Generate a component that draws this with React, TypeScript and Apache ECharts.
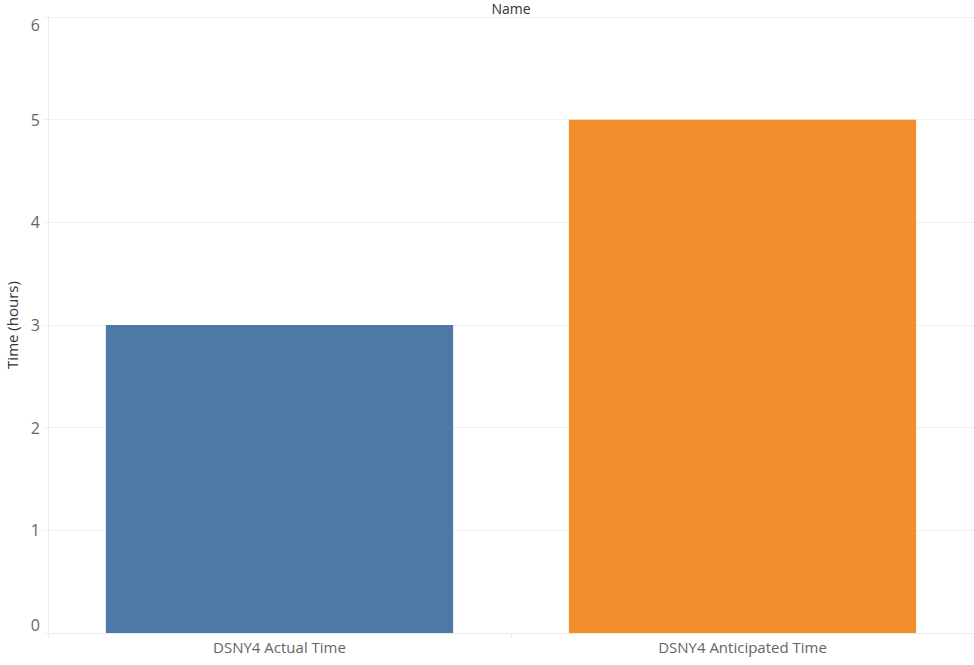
import React, { useEffect, useRef } from "react";
import * as echarts from "echarts";

const categories = ["DSNY4 Actual Time", "DSNY4 Anticipated Time"];
const hours = [3, 5];
const yTicks = [0, 1, 2, 3, 4, 5, 6];

const barColors = ["#4e79a7", "#f28e2b"];
const FONT = "'Open Sans', 'Noto Sans', sans-serif";

export default function App() {
  const ref = useRef<HTMLDivElement>(null);
  useEffect(() => {
    if (!ref.current) return;
    const chart = echarts.init(ref.current, null, { renderer: "svg" });
    chart.setOption({
      animation: false,
      textStyle: { fontFamily: FONT },
      title: {
        text: "Name",
        left: 511,
        top: 0,
        padding: 0,
        textAlign: "center",
        textStyle: { fontSize: 14, fontWeight: "normal", color: "#333", fontFamily: FONT, lineHeight: 16 },
      },
      grid: { left: 48, right: 0, top: 17, bottom: 32, containLabel: false, outerBoundsMode: "none" },
      xAxis: {
        type: "category",
        data: categories,
        axisLine: { show: true, lineStyle: { color: "#ececec" } },
        axisTick: { show: true, length: 5, lineStyle: { color: "#ececec" } },
        axisLabel: { color: "#666", fontSize: 15, margin: 6, fontFamily: FONT },
        splitLine: { show: false },
      },
      yAxis: {
        type: "value",
        min: yTicks[0],
        max: yTicks[yTicks.length - 1],
        interval: 1,
        name: "Time (hours)",
        nameLocation: "middle",
        nameRotate: 90,
        nameGap: 23,
        nameTextStyle: { color: "#333", fontSize: 15, fontFamily: FONT },
        axisLine: { show: true, lineStyle: { color: "#ececec" } },
        axisTick: { show: true, length: 5, lineStyle: { color: "#f0f0f0" } },
        axisLabel: {
          color: "#666",
          fontSize: 16,
          margin: 8,
          fontFamily: FONT,
          verticalAlignMinLabel: "bottom",
          verticalAlignMaxLabel: "top",
        },
        splitLine: { show: true, lineStyle: { color: "#f0f0f0" } },
      },
      series: [
        {
          type: "bar",
          barWidth: "75%",
          data: hours.map((v, i) => ({ value: v, itemStyle: { color: barColors[i] } })),
        },
      ],
    });
    return () => chart.dispose();
  }, []);
  return (
    <div
      ref={ref}
      style={{ position: "fixed", left: 0, top: 0, width: 974, height: 665, background: "#fff" }}
    />
  );
}
